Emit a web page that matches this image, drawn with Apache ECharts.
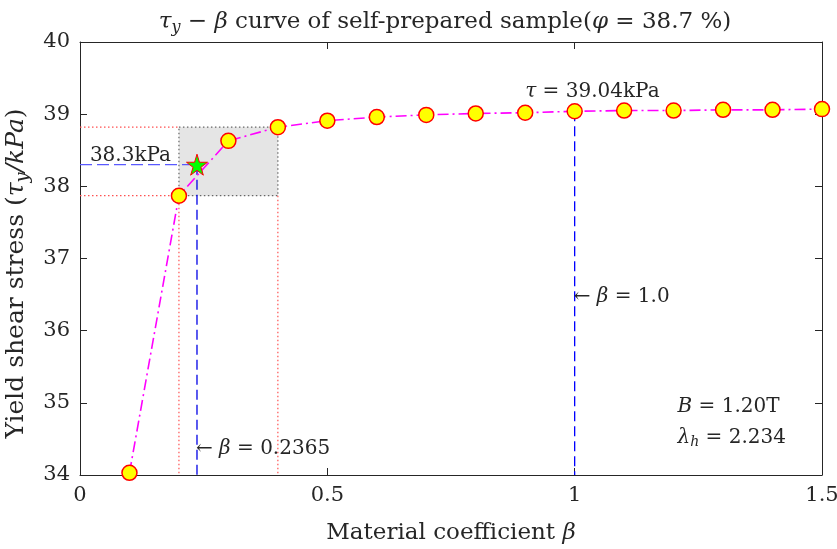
<!DOCTYPE html>
<html>
<head>
<meta charset="utf-8">
<script src="https://cdn.jsdelivr.net/npm/echarts@6/dist/echarts.min.js"></script>
<style>
  html, body { margin: 0; padding: 0; background: #fff; }
  #main { width: 837px; height: 549px; }
</style>
</head>
<body>
<div id="main"></div>
<script>
// measured curve
var beta = [0.1, 0.2, 0.3, 0.4, 0.5, 0.6, 0.7, 0.8, 0.9, 1.0, 1.1, 1.2, 1.3, 1.4, 1.5];
var tau = [34.03, 37.87, 38.63, 38.82, 38.91, 38.96, 38.99, 39.01, 39.02, 39.04, 39.05, 39.05, 39.06, 39.06, 39.07];

// picked point
var pickBeta = 0.2365;
var pickTau = 38.3;
// window around the pick
var boxBeta = [0.2, 0.4];
var boxTau = [37.87, 38.82];
var refBeta = 1.0;
var refTau = 39.04;

var xTicks = [0, 0.5, 1, 1.5];
var yTicks = [34, 35, 36, 37, 38, 39, 40];

var font = '"DejaVu Serif", "Liberation Serif", serif';
var ink = '#262626';
function richSize(sz) {
  return {
    i: { fontStyle: 'italic', fontFamily: font, fontSize: sz, color: ink, fontWeight: 'normal' },
    s: { fontStyle: 'italic', fontFamily: font, fontSize: Math.round(sz * 0.7), color: ink, fontWeight: 'normal', padding: [Math.round(sz * 0.5), 0, 0, 0] },
    n: { fontFamily: font, fontSize: sz, color: ink, fontWeight: 'normal' },
    gap: { width: 30 }
  };
}

function seg(p, color, type, width) {
  return {
    type: 'line', data: p, symbol: 'none', silent: true, z: 3,
    lineStyle: { color: color, type: type, width: width || 1 }
  };
}

// text notes [beta, tau, rich text]
var notes = [
  [0.02, 38.43, '{n|38.3kPa}'],
  [0.9, 39.31, '{i|τ}{n| = 39.04kPa}'],
  [0.998, 36.47, '{n|← }{i|β}{n| = 1.0}'],
  [0.2345, 34.36, '{n|← }{i|β}{n| = 0.2365}'],
  [1.208, 34.94, '{i|B}{n| = 1.20T}'],
  [1.208, 34.52, '{i|λ}{s|h}{n| = 2.234}']
];

var chart = echarts.init(document.getElementById('main'));
var axisCommon = {
  type: 'value',
  axisLine: { show: true, onZero: false, lineStyle: { color: ink, width: 1 } },
  axisTick: { show: true, inside: true, length: 7, lineStyle: { color: ink } },
  splitLine: { show: false }
};

var option = {
  animation: false,
  title: {
    text: '{i|τ}{s|y}{n| − }{i|β}{n| curve of self-prepared sample(}{i|φ}{n| = 38.7 %)}',
    left: 440, top: 3, textAlign: 'center',
    textStyle: { rich: richSize(23) }
  },
  grid: { left: 80, right: 15, top: 42, bottom: 74, containLabel: false, outerBoundsMode: 'none' },
  xAxis: [
    Object.assign({}, axisCommon, {
      min: 0, max: 1.5, interval: 0.5, position: 'bottom',
      axisLabel: { color: ink, fontFamily: font, fontSize: 21, margin: 10,
        formatter: function (v) { return xTicks.indexOf(v) >= 0 ? String(v) : ''; } },
      name: '{n|Material coefficient }{i|β}', nameLocation: 'middle', nameGap: 47,
      nameTextStyle: { rich: richSize(23) }
    }),
    Object.assign({}, axisCommon, { min: 0, max: 1.5, interval: 0.5, position: 'top', axisLabel: { show: false } })
  ],
  yAxis: [
    Object.assign({}, axisCommon, {
      min: 34, max: 40, interval: 1, position: 'left',
      axisLabel: { color: ink, fontFamily: font, fontSize: 21, margin: 10,
        formatter: function (v) { return yTicks.indexOf(v) >= 0 ? String(v) : ''; } },
      name: '{n|Yield shear stress (}{i|τ}{s|y}{i|/kPa}{n|)}{gap|}', nameLocation: 'middle', nameGap: 46,
      nameRotate: 90, nameTextStyle: { rich: richSize(25) }
    }),
    Object.assign({}, axisCommon, { min: 34, max: 40, interval: 1, position: 'right', axisLabel: { show: false } })
  ],
  series: [
    {
      type: 'line', data: [], silent: true, z: 1,
      markArea: {
        silent: true,
        itemStyle: { color: '#e5e5e5', borderColor: '#666', borderType: [1.5, 2.5], borderWidth: 1.2 },
        data: [[{ coord: [boxBeta[0], boxTau[1]] }, { coord: [boxBeta[1], boxTau[0]] }]]
      }
    },
    seg([[0, boxTau[1]], [boxBeta[0], boxTau[1]]], '#ff5050', [1.5, 2.5], 1.2),
    seg([[0, boxTau[0]], [boxBeta[0], boxTau[0]]], '#ff5050', [1.5, 2.5], 1.2),
    seg([[boxBeta[0], boxTau[0]], [boxBeta[0], 34]], '#ff5050', [1.5, 2.5], 1.2),
    seg([[boxBeta[1], boxTau[0]], [boxBeta[1], 34]], '#ff5050', [1.5, 2.5], 1.2),
    seg([[0, pickTau], [pickBeta, pickTau]], '#5a5aff', [12, 5], 1.3),
    seg([[pickBeta, pickTau], [pickBeta, 34]], '#0000e6', [10, 5], 1.3),
    seg([[refBeta, refTau], [refBeta, 34]], '#0000ff', [10, 5], 1.3),
    {
      type: 'line', z: 5,
      data: beta.map(function (b, k) { return [b, tau[k]]; }),
      symbol: 'circle', symbolSize: 15,
      itemStyle: { color: '#ffff00', borderColor: '#ff0000', borderWidth: 1.5 },
      lineStyle: { color: '#ff00ff', width: 1.6, type: [11, 4, 2, 4] }
    },
    {
      type: 'scatter', z: 6,
      data: [[pickBeta, pickTau]],
      symbol: 'path://M50,0 L61,35 L98,35 L68,57 L79,91 L50,70 L21,91 L32,57 L2,35 L39,35 Z',
      symbolSize: 21,
      itemStyle: { color: '#00ff00', borderColor: '#ff0000', borderWidth: 1, opacity: 1 }
    },
    {
      type: 'scatter', z: 7, silent: true, symbolSize: 0,
      itemStyle: { opacity: 1 },
      data: notes.map(function (t) { return { value: [t[0], t[1]], txt: t[2] }; }),
      label: {
        show: true, position: 'right', distance: 0, opacity: 1,
        formatter: function (p) { return p.data.txt; },
        rich: richSize(20)
      }
    }
  ]
};
chart.setOption(option);
</script>
</body>
</html>
